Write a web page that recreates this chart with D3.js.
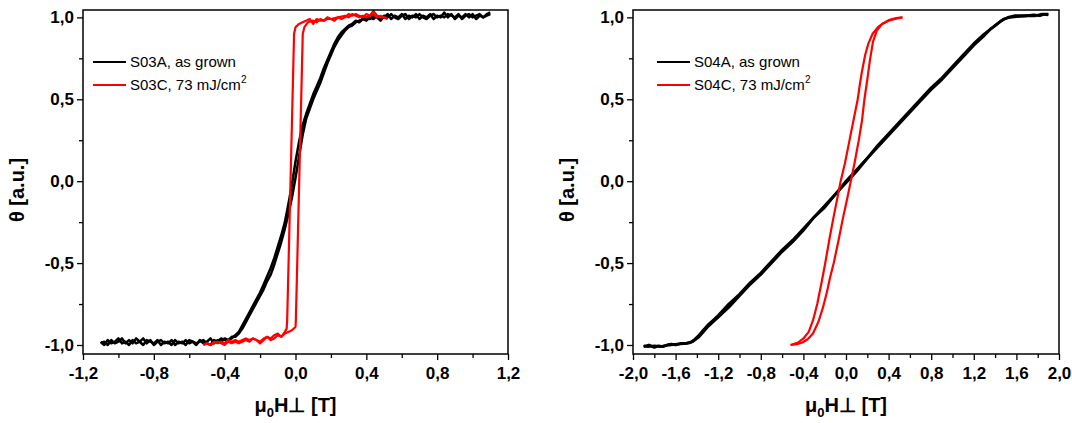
<!DOCTYPE html>
<html>
<head>
  <meta charset="UTF-8">
  <title>Kerr loops</title>
  <style>
    body { margin: 0; background: #fff; }
    svg { display: block; font-family: "Liberation Sans", Arial, sans-serif; }
    .tick text { font-size: 17px; font-weight: bold; font-family: "Liberation Sans", Arial, sans-serif; }
    .axis-title { font-size: 20px; font-weight: bold; }
    .legend text { font-size: 15px; }
  </style>
</head>
<body>
<svg></svg>
<script src="https://d3js.org/d3.v7.min.js"></script>
<script>

let width = 1072, height = 423;

// ---- data ----

// S03A (black, left): shared field grid, two branches
const s03aX = [-1.10,-1.08,-1.06,-1.04,-1.02,-1.00,-0.98,-0.96,-0.94,-0.92,-0.90,-0.88,-0.86,-0.84,-0.82,-0.80,-0.78,-0.76,-0.74,-0.72,
  -0.70,-0.68,-0.66,-0.64,-0.62,-0.60,-0.58,-0.56,-0.54,-0.52,-0.50,-0.48,-0.46,-0.44,-0.42,-0.40,-0.38,-0.36,-0.34,-0.32,
  -0.30,-0.28,-0.26,-0.24,-0.22,-0.20,-0.18,-0.16,-0.14,-0.12,-0.10,-0.08,-0.06,-0.04,-0.02,0.00,0.02,0.04,0.06,0.08,
  0.10,0.12,0.14,0.16,0.18,0.20,0.22,0.24,0.26,0.28,0.30,0.32,0.34,0.36,0.38,0.40,0.42,0.44,0.46,0.48,
  0.50,0.52,0.54,0.56,0.58,0.60,0.62,0.64,0.66,0.68,0.70,0.72,0.74,0.76,0.78,0.80,0.82,0.84,0.86,0.88,
  0.90,0.92,0.94,0.96,0.98,1.00,1.02,1.04,1.06,1.08,1.10];
const s03aUp = [-0.99,-0.98,-1.00,-0.97,-0.99,-0.98,-0.96,-0.99,-0.97,-0.99,-0.96,-0.98,-1.00,-0.97,-0.98,-0.99,-0.97,-1.00,-0.98,-0.99,
  -0.97,-1.00,-0.98,-0.99,-0.97,-0.99,-0.98,-1.00,-0.97,-0.99,-0.98,-0.96,-0.99,-0.97,-0.98,-0.96,-0.97,-0.95,-0.95,-0.93,
  -0.90,-0.86,-0.82,-0.78,-0.74,-0.70,-0.66,-0.61,-0.57,-0.51,-0.44,-0.37,-0.29,-0.20,-0.10,0.02,0.15,0.28,0.38,0.44,
  0.50,0.55,0.60,0.66,0.72,0.77,0.82,0.86,0.89,0.92,0.94,0.95,0.97,0.98,0.99,0.98,1.00,0.99,1.01,0.99,
  1.00,1.02,0.99,1.01,1.00,1.02,0.99,1.01,1.00,1.02,0.99,1.01,1.00,1.02,0.99,1.01,1.00,1.03,1.00,1.02,
  0.99,1.01,1.00,1.02,1.00,1.02,0.99,1.01,1.00,1.02,1.03];
const s03aDown = [-0.98,-1.00,-0.97,-0.99,-0.98,-0.96,-0.99,-0.98,-1.00,-0.97,-0.99,-0.98,-0.96,-0.99,-0.97,-1.00,-0.98,-0.97,-0.99,-0.98,
  -1.00,-0.97,-0.99,-0.98,-1.00,-0.97,-0.98,-0.99,-0.98,-0.97,-0.99,-1.00,-0.97,-0.98,-0.96,-0.97,-0.97,-0.96,-0.94,-0.92,
  -0.88,-0.84,-0.80,-0.76,-0.72,-0.68,-0.63,-0.58,-0.53,-0.47,-0.40,-0.33,-0.25,-0.14,-0.02,0.12,0.24,0.34,0.41,0.47,
  0.53,0.58,0.63,0.69,0.74,0.79,0.84,0.88,0.91,0.93,0.95,0.96,0.98,0.97,0.99,1.00,0.99,1.01,1.00,0.98,
  1.01,1.00,1.02,1.00,0.99,1.01,1.02,0.99,1.01,1.00,1.02,1.00,0.99,1.01,1.02,1.00,1.01,1.00,1.02,1.01,
  1.00,1.02,0.99,1.01,1.02,1.00,1.01,1.02,1.00,1.01,1.02];

// S03C (red, left)
const s03cUp = [[-0.52,-1.00],[-0.50,-0.99],[-0.48,-1.00],[-0.46,-0.98],[-0.44,-0.99],[-0.42,-0.98],[-0.40,-0.99],[-0.38,-0.97],
  [-0.36,-0.98],[-0.34,-0.97],[-0.32,-0.98],[-0.30,-0.97],[-0.28,-0.96],[-0.26,-0.97],[-0.24,-0.96],[-0.22,-0.97],[-0.20,-0.98],
  [-0.18,-0.96],[-0.16,-0.95],[-0.14,-0.96],[-0.12,-0.94],[-0.10,-0.93],[-0.08,-0.95],[-0.06,-0.93],[-0.04,-0.92],[-0.02,-0.91],
  [0.00,-0.89],[0.002,-0.85],[0.041,0.90],[0.05,0.94],[0.07,0.97],[0.10,0.98],[0.12,0.97],[0.14,0.99],[0.16,0.98],[0.18,1.00],
  [0.20,0.99],[0.24,1.00],[0.28,1.01],[0.30,1.00],[0.32,1.02],[0.34,1.01],[0.36,1.00],[0.38,1.01],[0.40,1.00],[0.42,1.01],
  [0.44,1.04],[0.46,1.01],[0.48,1.00],[0.50,1.00],[0.52,0.99]];
const s03cDown = [[0.52,0.99],[0.50,1.00],[0.48,1.01],[0.46,1.00],[0.44,1.02],[0.42,1.01],[0.40,1.02],[0.38,1.00],[0.36,1.01],
  [0.34,1.02],[0.32,1.01],[0.30,1.02],[0.28,1.00],[0.26,0.99],[0.24,1.00],[0.22,0.98],[0.20,0.99],[0.18,0.99],[0.16,0.98],
  [0.14,0.98],[0.12,0.99],[0.10,0.96],[0.08,0.99],[0.06,0.98],[0.04,0.97],[0.02,0.96],[0.00,0.94],[-0.008,0.90],[-0.047,-0.85],
  [-0.05,-0.90],[-0.06,-0.92],[-0.08,-0.95],[-0.10,-0.94],[-0.12,-0.96],[-0.14,-0.97],[-0.16,-0.95],[-0.18,-0.97],[-0.20,-0.99],
  [-0.22,-0.97],[-0.24,-0.96],[-0.26,-0.98],[-0.28,-0.97],[-0.30,-0.98],[-0.32,-0.99],[-0.34,-0.98],[-0.36,-0.99],[-0.38,-0.98],
  [-0.40,-1.00],[-0.42,-0.99],[-0.44,-0.98],[-0.46,-0.99],[-0.48,-1.00],[-0.50,-0.99],[-0.52,-1.00]];

// S04A (black, right)
const s04aUp = [[-1.90,-1.01],[-1.85,-1.00],[-1.80,-1.015],[-1.76,-1.005],[-1.72,-1.01],[-1.68,-1.00],[-1.64,-0.995],[-1.60,-1.00],
  [-1.55,-0.99],[-1.50,-0.99],[-1.46,-0.985],[-1.42,-0.965],[-1.38,-0.94],[-1.34,-0.91],[-1.30,-0.88],[-1.25,-0.85],[-1.20,-0.82],
  [-1.10,-0.75],[-1.00,-0.69],[-0.90,-0.62],[-0.80,-0.56],[-0.70,-0.49],[-0.60,-0.42],[-0.50,-0.36],[-0.40,-0.29],[-0.30,-0.22],
  [-0.20,-0.16],[-0.10,-0.08],[0.00,0.00],[0.10,0.07],[0.20,0.14],[0.30,0.22],[0.40,0.29],[0.50,0.36],[0.60,0.43],[0.70,0.50],
  [0.80,0.57],[0.90,0.63],[1.00,0.70],[1.10,0.77],[1.20,0.84],[1.30,0.90],[1.40,0.95],[1.46,0.98],[1.52,1.00],[1.58,1.01],
  [1.64,1.01],[1.70,1.01],[1.76,1.015],[1.82,1.01],[1.86,1.02],[1.90,1.02]];
const s04aDown = [[1.90,1.015],[1.84,1.02],[1.78,1.01],[1.70,1.01],[1.60,1.005],[1.54,1.00],[1.48,0.99],[1.42,0.96],[1.36,0.93],
  [1.30,0.89],[1.20,0.83],[1.10,0.76],[1.00,0.69],[0.90,0.62],[0.80,0.56],[0.70,0.49],[0.60,0.42],[0.50,0.35],[0.40,0.28],
  [0.30,0.21],[0.20,0.14],[0.10,0.06],[0.00,-0.01],[-0.10,-0.08],[-0.20,-0.15],[-0.30,-0.22],[-0.40,-0.30],[-0.50,-0.37],
  [-0.60,-0.43],[-0.70,-0.50],[-0.80,-0.57],[-0.90,-0.63],[-1.00,-0.70],[-1.10,-0.77],[-1.20,-0.83],[-1.30,-0.89],[-1.38,-0.95],
  [-1.44,-0.98],[-1.50,-0.99],[-1.58,-0.995],[-1.66,-1.00],[-1.74,-1.01],[-1.80,-1.005],[-1.86,-1.01],[-1.90,-1.005]];

// S04C (red, right)
const s04cDown = [[0.53,1.00],[0.47,0.995],[0.41,0.985],[0.35,0.965],[0.30,0.94],[0.25,0.90],[0.21,0.84],[0.18,0.77],[0.15,0.67],
  [0.13,0.59],[0.11,0.50],[0.07,0.37],[0.03,0.24],[-0.01,0.11],[-0.05,0.00],[-0.08,-0.10],[-0.12,-0.23],[-0.16,-0.37],[-0.195,-0.50],
  [-0.23,-0.62],[-0.27,-0.75],[-0.31,-0.85],[-0.35,-0.92],[-0.40,-0.96],[-0.45,-0.985],[-0.52,-1.00]];
const s04cUp = [[-0.52,-1.00],[-0.46,-0.995],[-0.41,-0.985],[-0.36,-0.965],[-0.31,-0.93],[-0.26,-0.86],[-0.22,-0.78],[-0.18,-0.68],
  [-0.15,-0.59],[-0.115,-0.50],[-0.07,-0.36],[-0.03,-0.23],[0.01,-0.11],[0.045,0.00],[0.08,0.11],[0.12,0.25],[0.15,0.37],
  [0.173,0.50],[0.20,0.62],[0.225,0.74],[0.253,0.85],[0.29,0.92],[0.34,0.96],[0.40,0.98],[0.46,0.99],[0.53,1.00]];

const legendLeft = ["S03A, as grown", "S03C, 73 mJ/cm"];
const legendRight = ["S04A, as grown", "S04C, 73 mJ/cm"];
const colors = ["#000000", "#ff0000"];

const yTicks = [-1.0, -0.5, 0.0, 0.5, 1.0];
const yMinor = [-0.75, -0.25, 0.25, 0.75];
const xTicksLeft = [-1.2, -0.8, -0.4, 0.0, 0.4, 0.8, 1.2];
const xMinorLeft = [-1.0, -0.6, -0.2, 0.2, 0.6, 1.0];
const xTicksRight = [-2.0, -1.6, -1.2, -0.8, -0.4, 0.0, 0.4, 0.8, 1.2, 1.6, 2.0];
const xMinorRight = [-1.8, -1.4, -1.0, -0.6, -0.2, 0.2, 0.6, 1.0, 1.4, 1.8];

let svg = d3.select("svg")
  .attr("width", width)
  .attr("height", height);

let fmt = d => d3.format(".1f")(d).replace(".", ",").replace("\u2212", "-");

function panel(opts) {
  let x = d3.scaleLinear().domain(opts.xDomain).range([opts.x0, opts.x1]);
  let y = d3.scaleLinear().domain([-1.055, 1.045]).range([354, 10]);
  let g = svg.append("g");

  // minor ticks first
  g.append("g")
    .attr("transform", "translate(0,354)")
    .call(d3.axisBottom(x).tickValues(opts.xMinor).tickSize(4).tickFormat(""))
    .call(a => a.select(".domain").remove())
    .selectAll("line").attr("stroke-width", 1.3);
  g.append("g")
    .attr("transform", "translate(" + opts.x0 + ",0)")
    .call(d3.axisLeft(y).tickValues(yMinor).tickSize(4).tickFormat(""))
    .call(a => a.select(".domain").remove())
    .selectAll("line").attr("stroke-width", 1.3);

  let xa = g.append("g")
    .attr("transform", "translate(0,354)")
    .call(d3.axisBottom(x).tickValues(opts.xTicks).tickSize(6).tickPadding(7).tickFormat(fmt));
  xa.select(".domain").remove();
  xa.selectAll("line").attr("stroke-width", 1.3);
  xa.selectAll("text").attr("fill", "#000");

  let ya = g.append("g")
    .attr("transform", "translate(" + opts.x0 + ",0)")
    .call(d3.axisLeft(y).tickValues(yTicks).tickSize(6).tickPadding(3).tickFormat(fmt));
  ya.select(".domain").remove();
  ya.selectAll("line").attr("stroke-width", 1.3);
  ya.selectAll("text").attr("fill", "#000");

  // data
  let line = d3.line().x(d => x(d[0])).y(d => y(d[1]));
  opts.series.forEach(s => {
    g.append("path")
      .datum(s.data)
      .attr("fill", "none")
      .attr("stroke", s.color)
      .attr("stroke-width", s.w)
      .attr("stroke-linejoin", "round")
      .attr("d", line);
  });

  // frame
  g.append("rect")
    .attr("x", opts.x0).attr("y", 10)
    .attr("width", opts.x1 - opts.x0).attr("height", 344)
    .attr("fill", "none").attr("stroke", "#000").attr("stroke-width", 1.5);

  // legend
  let lg = g.append("g").attr("class", "legend");
  opts.legend.forEach((t, i) => {
    let ly = 62 + i * 23;
    lg.append("line")
      .attr("x1", opts.lx).attr("x2", opts.lx + 33)
      .attr("y1", ly).attr("y2", ly)
      .attr("stroke", colors[i]).attr("stroke-width", 2);
    let tx = lg.append("text").attr("x", opts.lx + 37).attr("y", ly + 5).text(t);
    if (i == 1) tx.append("tspan").attr("dy", -7).style("font-size", "10px").text("2");
  });

  // axis titles
  let xt = g.append("text").attr("class", "axis-title")
    .attr("x", (opts.x0 + opts.x1) / 2).attr("y", 412)
    .attr("text-anchor", "middle");
  xt.append("tspan").text("\u03bc");
  xt.append("tspan").attr("dy", 5).style("font-size", "13px").text("0");
  xt.append("tspan").attr("dy", -5).text("H\u22a5 [T]");

  g.append("text").attr("class", "axis-title")
    .attr("transform", "translate(" + (opts.x0 - 59) + ",190) rotate(-90)")
    .attr("text-anchor", "middle")
    .text("\u03b8 [a.u.]");
}

panel({
  x0: 83, x1: 508, xDomain: [-1.2, 1.2],
  xTicks: xTicksLeft, xMinor: xMinorLeft,
  lx: 93, legend: legendLeft,
  series: [
    { data: s03aX.map((v, i) => [v, s03aDown[i]]), color: colors[0], w: 2.5 },
    { data: s03aX.map((v, i) => [v, s03aUp[i]]), color: colors[0], w: 2.5 },
    { data: s03cDown, color: colors[1], w: 2.2 },
    { data: s03cUp, color: colors[1], w: 2.2 }
  ]
});

panel({
  x0: 633, x1: 1059, xDomain: [-2.0, 2.0],
  xTicks: xTicksRight, xMinor: xMinorRight,
  lx: 657, legend: legendRight,
  series: [
    { data: s04aDown, color: colors[0], w: 2.8 },
    { data: s04aUp, color: colors[0], w: 2.8 },
    { data: s04cDown, color: colors[1], w: 2.2 },
    { data: s04cUp, color: colors[1], w: 2.2 }
  ]
});

</script>
</body>
</html>
